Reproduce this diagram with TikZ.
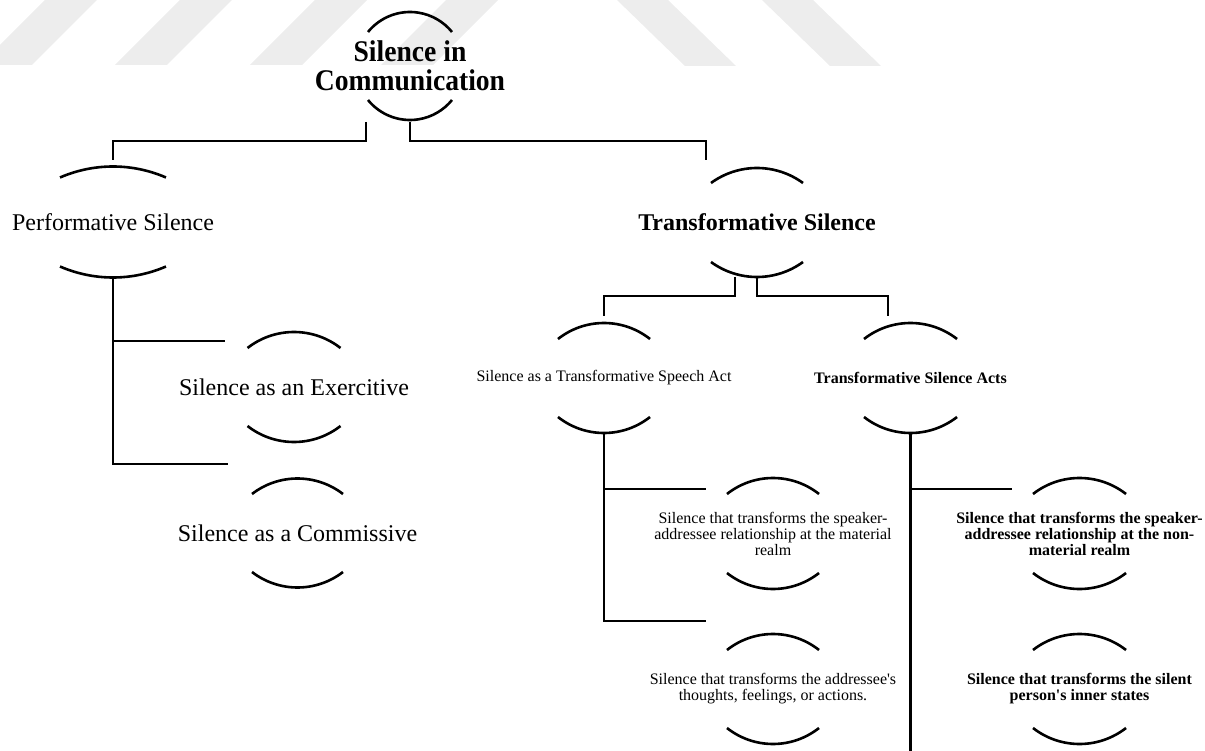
\documentclass[tikz,border=0pt]{standalone}
\usepackage{fontspec}
\setmainfont{Liberation Serif}[Ligatures=TeXOff]
\newfontfamily\headfont{Liberation Serif}[Ligatures=TeXOff, FakeStretch=0.92]
\usetikzlibrary{calc}

% Two facing arcs above and below a node: #1 node, #2 half chord,
% #3 vertical offset of the chord ends from the centre, #4 sagitta.
\newcommand\lens[4]{%
  \pgfmathsetmacro\lensR{(#2*#2+#4*#4)/(2*#4)}%
  \pgfmathsetmacro\lensA{asin(#2/\lensR)}%
  \draw[arcline] ($(#1.center)+(-#2,-#3)$) arc[start angle=270-\lensA, end angle=270+\lensA, radius=\lensR];
  \draw[arcline] ($(#1.center)+(-#2,#3)$) arc[start angle=90+\lensA, end angle=90-\lensA, radius=\lensR];
}

\begin{document}
\begin{tikzpicture}[x=1pt, y=-1pt,
  band/.style={fill=black!7, draw=none},
  link/.style={line width=2.8pt},
  arcline/.style={line width=2.6pt},
  lbl/.style={inner sep=0pt, outer sep=0pt, align=center},
  head/.style={lbl, font=\headfont\bfseries\fontsize{30}{29}\selectfont},
  big/.style={lbl, font=\fontsize{24}{28}\selectfont},
  bigbold/.style={lbl, font=\bfseries\fontsize{24}{28}\selectfont},
  small/.style={lbl, font=\fontsize{16}{16}\selectfont},
  smallbold/.style={lbl, font=\bfseries\fontsize{16}{16}\selectfont}]
\useasboundingbox (0,0) rectangle (1205,751);

% faint slanted bands along the top edge
\foreach \a in {45,180,315,446}
  \fill[band] (\a,0) -- (\a+52,0) -- (\a-13,65) -- (\a-65,65) -- cycle;
\foreach \a in {617,762}
  \fill[band] (\a,0) -- (\a+51,0) -- (\a+119,66) -- (\a+68,66) -- cycle;

% concepts
\node[head, minimum height=108] (top) at (410,66) {Silence in\\Communication};
\node[big, minimum height=111] (perf) at (113,222) {Performative Silence};
\node[big, minimum height=110] (exer) at (294,387) {Silence as an Exercitive};
\node[big, minimum height=109] (comm) at (297.5,533) {Silence as a Commissive};
\node[bigbold, minimum height=109] (trans) at (757,222.5) {Transformative Silence};
\node[small, minimum height=110] (act) at (604,378) {Silence as a Transformative Speech Act};
\node[smallbold, minimum height=110] (acts) at (910.5,378) {Transformative Silence Acts};
\node[small, minimum height=111] (mat) at (773,533.5)
  {Silence that transforms the speaker-\\addressee relationship at the material\\realm};
\node[small, minimum height=110] (addr) at (773,689)
  {Silence that transforms the addressee's\\thoughts, feelings, or actions.};
\node[smallbold, minimum height=111] (nonmat) at (1079.5,533.5)
  {Silence that transforms the speaker-\\addressee relationship at the non-\\material realm};
\node[smallbold, minimum height=110] (inner) at (1079.5,689)
  {Silence that transforms the silent\\person's inner states};

% arcs framing each concept
\lens{top}{42}{34}{20}
\lens{perf}{53}{44.5}{11}
\lens{exer}{46.5}{39}{16}
\lens{comm}{45.5}{39}{15.5}
\lens{trans}{46}{39.5}{15}
\lens{act}{46}{39}{16}
\lens{acts}{46.5}{39}{16}
\lens{mat}{46}{39.5}{16}
\lens{addr}{46}{39}{16}
\lens{nonmat}{46.5}{39.5}{16}
\lens{inner}{46.5}{39}{16}

% hierarchy connectors
\draw[link] ($(top.south)+(-44,2)$) -- ++(0,19) -| ($(perf.north)+(0,-6)$);
\draw[link] ($(top.south)+(0,2)$) -- ++(0,19) -| ($(trans.north)+(-51,-8)$);
\draw[link] ($(trans.south)+(-22,0)$) -- ++(0,19) -| ($(act.north)+(0,-7)$);
\draw[link] (trans.south) -- ++(0,19) -| ($(acts.north)+(-22.5,-7)$);
\draw[link] (perf.south) |- ($(exer.north)+(-69,9)$);
\draw[link] (perf.south) |- ($(comm.north)+(-69.5,-14.5)$);
\draw[link] (act.south) |- ($(mat.north)+(-67,11)$);
\draw[link] (act.south) |- ($(addr.north)+(-67,-13)$);
\draw[link] (acts.south) |- ($(nonmat.north)+(-67.5,11)$);
\coordinate (trunk-end) at (911,752);
\draw[link] (acts.south) -- (acts.south |- trunk-end);
\end{tikzpicture}
\end{document}
